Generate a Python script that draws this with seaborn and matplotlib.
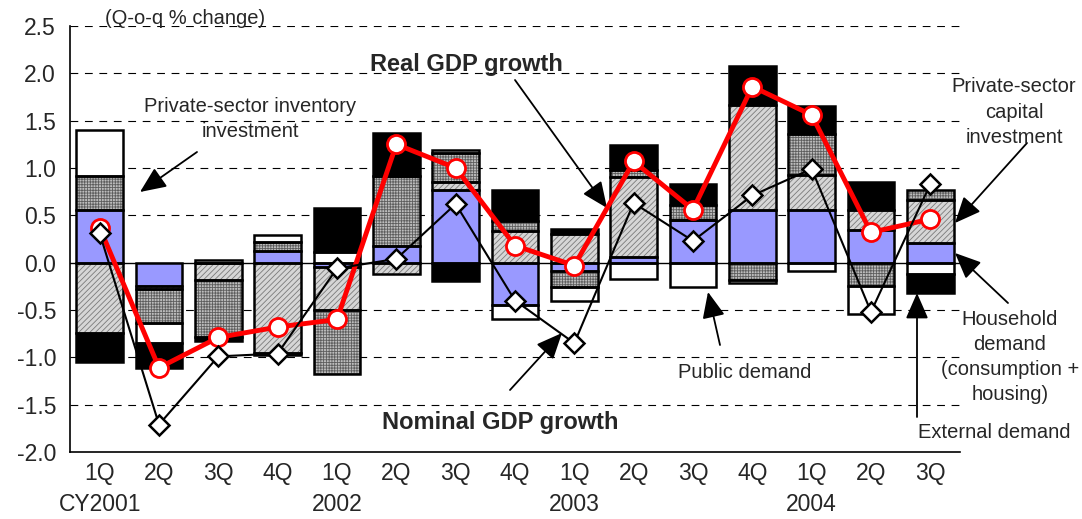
import matplotlib
matplotlib.use("Agg")
import matplotlib.pyplot as plt
import seaborn as sns
import pandas as pd
import numpy as np

# quarters on the x axis
quarters = ["1Q", "2Q", "3Q", "4Q", "1Q", "2Q", "3Q", "4Q",
            "1Q", "2Q", "3Q", "4Q", "1Q", "2Q", "3Q"]
years = ["CY2001", "", "", "", "2002", "", "", "",
         "2003", "", "", "", "2004", "", ""]

# contributions to real GDP growth (q-o-q %)
household = [0.56, -0.25, 0.00, 0.12, -0.05, 0.18, 0.77, -0.45,
             -0.09, 0.06, 0.45, 0.56, 0.56, 0.35, 0.21]
capital = [-0.74, -0.03, -0.18, -0.95, -0.45, -0.12, 0.08, 0.33,
           0.30, 0.85, 0.00, 1.11, 0.37, 0.21, 0.45]
inventory = [0.36, -0.36, -0.60, 0.10, -0.68, 0.74, 0.31, 0.11,
             -0.17, 0.07, 0.16, -0.18, 0.43, -0.25, 0.11]
public = [0.48, -0.21, 0.03, 0.07, 0.11, 0.00, 0.03, -0.15,
          -0.14, -0.17, -0.26, -0.04, -0.09, -0.29, -0.12]
external = [-0.31, -0.26, -0.05, -0.03, 0.47, 0.45, -0.19, 0.33,
            0.06, 0.26, 0.22, 0.41, 0.29, 0.29, -0.20]

real_gdp = [0.37, -1.11, -0.79, -0.68, -0.60, 1.25, 1.00, 0.18,
            -0.03, 1.07, 0.56, 1.86, 1.56, 0.32, 0.46]
nominal_gdp = [0.31, -1.71, -0.99, -0.96, -0.06, 0.04, 0.62, -0.40,
               -0.85, 0.63, 0.23, 0.71, 0.99, -0.52, 0.83]

sns.set_style("white")
plt.rcParams["font.family"] = ["Liberation Sans", "DejaVu Sans"]
plt.rcParams["hatch.linewidth"] = 0.6

W, H = 1082, 519
fig = plt.figure(figsize=(W / 100, H / 100), dpi=100)
ax = fig.add_axes([70 / W, 1 - 452 / H, 890 / W, 426 / H])

x = np.arange(len(quarters))
width = 0.79

# stacking order from the zero line outwards
components = [
    (household, "#9999ff", None, None),
    (capital, "#d6d6d6", "//////", "#7a7a7a"),
    (inventory, "#bdbdbd", "++++++", "#5e5e5e"),
    (public, "white", None, None),
    (external, "black", None, None),
]

pos_base = np.zeros(len(x))
neg_base = np.zeros(len(x))
for vals, fc, hatch, hc in components:
    v = np.array(vals)
    bottom = np.where(v >= 0, pos_base, neg_base)
    ax.bar(x, v, width, bottom=bottom, color=fc, hatch=hatch,
           edgecolor=hc if hc else fc, linewidth=0, zorder=2)
    ax.bar(x, v, width, bottom=bottom, facecolor="none",
           edgecolor="black", linewidth=1.8, zorder=3)
    pos_base = pos_base + np.where(v >= 0, v, 0)
    neg_base = neg_base + np.where(v < 0, v, 0)

df = pd.DataFrame({"x": x, "real": real_gdp, "nominal": nominal_gdp})
sns.lineplot(data=df, x="x", y="real", ax=ax, color="#ff0000", lw=3.5,
             marker="o", markersize=13, markerfacecolor="white",
             markeredgecolor="#ff0000", markeredgewidth=2, zorder=4)
sns.lineplot(data=df, x="x", y="nominal", ax=ax, color="black", lw=1.5,
             marker="D", markersize=10, markerfacecolor="white",
             markeredgecolor="black", markeredgewidth=1.8, zorder=5)

ax.set_xlim(-0.5, len(x) - 0.5)
ax.set_ylim(-2.0, 2.5)
ax.set_yticks(np.arange(-2.0, 2.51, 0.5))
ax.set_yticklabels([f"{t:.1f}" for t in np.arange(-2.0, 2.51, 0.5)])
ax.set_xticks(x)
ax.set_xticklabels([q + "\n" + y for q, y in zip(quarters, years)],
                   linespacing=1.45)
ax.set_xticks(np.arange(0.5, len(x) - 1, 1), minor=True)
ax.tick_params(axis="x", which="major", length=0, labelsize=16.5, pad=7)
ax.tick_params(axis="x", which="minor", length=6, direction="in", width=1)
ax.tick_params(axis="y", length=5, direction="in", labelsize=16.5, pad=10)
ax.set_xlabel("")
ax.set_ylabel("")

for g in [-1.5, -1.0, -0.5, 0.5, 1.0, 1.5, 2.0, 2.5]:
    ax.axhline(g, color="black", lw=0.8, ls=(0, (7, 6)), zorder=1)
ax.axhline(0, color="black", lw=1, zorder=1)

for s in ["top", "right"]:
    ax.spines[s].set_visible(False)
for s in ["left", "bottom"]:
    ax.spines[s].set_color("black")
    ax.spines[s].set_linewidth(1.2)


def fp(px, py):
    return (px / W, 1 - py / H)


arrow = dict(arrowstyle="-|>,head_length=0.8,head_width=0.35",
             color="black", lw=1.3, mutation_scale=20, shrinkA=0, shrinkB=0)

fig.text(*fp(105, 18), "(Q-o-q % change)", fontsize=14.5, va="center")
fig.text(*fp(466, 64), "Real GDP growth", fontsize=17, fontweight="bold",
         ha="center", va="center")
fig.text(*fp(500, 422), "Nominal GDP growth", fontsize=17, fontweight="bold",
         ha="center", va="center")
fig.text(*fp(250, 119), "Private-sector inventory\ninvestment", fontsize=14.5,
         ha="center", va="center", linespacing=1.4)
fig.text(*fp(745, 373), "Public demand", fontsize=14.5, ha="center", va="center")
fig.text(*fp(1014, 112), "Private-sector\ncapital\ninvestment", fontsize=14.5,
         ha="center", va="center", linespacing=1.45)
fig.text(*fp(1010, 357), "Household\ndemand\n(consumption +\nhousing)",
         fontsize=14.5, ha="center", va="center", linespacing=1.42)
fig.text(*fp(994, 432), "External demand", fontsize=14.5, ha="center", va="center")

for start, end in [((515, 80), (607, 208)),
                   ((197, 152), (140, 192)),
                   ((510, 390), (562, 333)),
                   ((720, 345), (708, 292)),
                   ((1027, 143), (955, 223)),
                   ((1008, 303), (955, 253)),
                   ((917, 417), (917, 293))]:
    ax.annotate("", xy=fp(*end), xycoords="figure fraction",
                xytext=fp(*start), textcoords="figure fraction",
                arrowprops=arrow, annotation_clip=False)

fig.savefig("out.png", dpi=100)
